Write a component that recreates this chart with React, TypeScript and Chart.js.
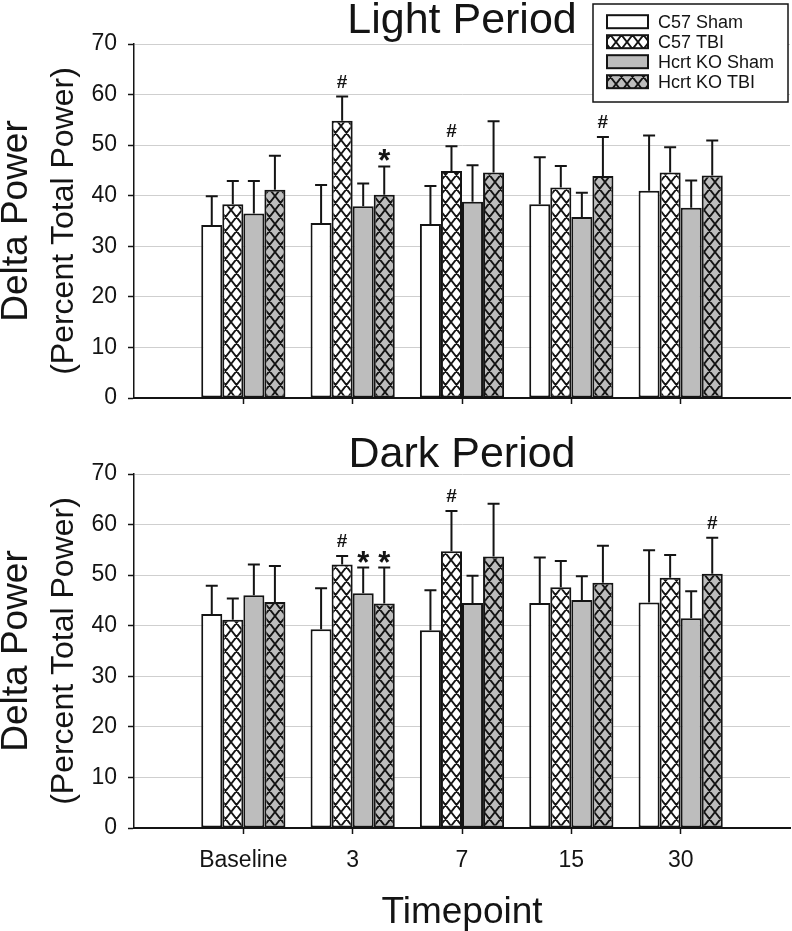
import React, { useEffect, useRef } from 'react';
import { Chart, registerables } from 'chart.js';

Chart.register(...registerables);

const FONT = "'Liberation Sans', Arial, Helvetica, sans-serif";

// Categories (empty slots at both ends leave room like in the original figure)
const timepoints = ['', 'Baseline', '3', '7', '15', '30', ''];
const seriesNames = ['C57 Sham', 'C57 TBI', 'Hcrt KO Sham', 'Hcrt KO TBI'];
const yTickValues = [0, 10, 20, 30, 40, 50, 60, 70];

// Light period: means and upward error (SEM)
const lightC57Sham = [null, 34.2, 34.6, 34.4, 38.3, 41.0, null];
const lightC57TBI = [null, 38.3, 54.8, 44.9, 41.6, 44.6, null];
const lightHcrtSham = [null, 36.5, 37.9, 38.8, 35.8, 37.6, null];
const lightHcrtTBI = [null, 41.2, 40.2, 44.6, 43.9, 44.0, null];
const lightC57ShamErr = [0, 5.7, 7.5, 7.5, 9.3, 10.9, 0];
const lightC57TBIErr = [0, 4.6, 4.8, 4.9, 4.3, 5.0, 0];
const lightHcrtShamErr = [0, 6.4, 4.5, 7.2, 4.8, 5.4, 0];
const lightHcrtTBIErr = [0, 6.7, 5.6, 10.1, 7.7, 6.9, 0];
const lightMarksC57Sham = ['', '', '', '', '', '', ''];
const lightMarksC57TBI = ['', '', '#', '#', '', '', ''];
const lightMarksHcrtSham = ['', '', '', '', '', '', ''];
const lightMarksHcrtTBI = ['', '', '*', '', '#', '', ''];

// Dark period: means and upward error (SEM)
const darkC57Sham = [null, 42.3, 39.3, 39.1, 44.5, 44.6, null];
const darkC57TBI = [null, 41.2, 52.1, 54.7, 47.6, 49.5, null];
const darkHcrtSham = [null, 46.0, 46.4, 44.5, 45.1, 41.5, null];
const darkHcrtTBI = [null, 44.7, 44.4, 53.7, 48.5, 50.3, null];
const darkC57ShamErr = [0, 5.6, 8.1, 7.9, 9.0, 10.3, 0];
const darkC57TBIErr = [0, 4.2, 1.7, 8.0, 5.2, 4.5, 0];
const darkHcrtShamErr = [0, 6.1, 5.1, 5.4, 4.7, 5.3, 0];
const darkHcrtTBIErr = [0, 7.1, 7.1, 10.4, 7.3, 7.1, 0];
const darkMarksC57Sham = ['', '', '', '', '', '', ''];
const darkMarksC57TBI = ['', '', '#', '#', '', '', ''];
const darkMarksHcrtSham = ['', '', '*', '', '', '', ''];
const darkMarksHcrtTBI = ['', '', '*', '', '', '#', ''];

const GREY = '#bdbdbd';
const INK = '#141414';

function makeHatch(bg: string): CanvasPattern | string {
  const W = 11, H = 14;
  const c = document.createElement('canvas');
  c.width = W;
  c.height = H;
  const g = c.getContext('2d');
  if (!g) return bg;
  g.fillStyle = bg;
  g.fillRect(0, 0, W, H);
  g.strokeStyle = INK;
  g.lineWidth = 1.9;
  g.beginPath();
  for (const dx of [-W, 0, W]) {
    for (const dy of [-H, 0, H]) {
      g.moveTo(dx, dy);
      g.lineTo(dx + W, dy + H);
      g.moveTo(dx + W, dy);
      g.lineTo(dx, dy + H);
    }
  }
  g.stroke();
  const p = g.createPattern(c, 'repeat');
  return p || bg;
}

type PanelProps = {
  top: number;
  height: number;
  plotTop: number;
  plotBottom: number;
  title: string;
  titleBaseline: number;
  showXLabels: boolean;
  showLegend: boolean;
  values: (number | null)[][];
  errors: number[][];
  marks: string[][];
};

function Panel(props: PanelProps) {
  const ref = useRef<HTMLCanvasElement>(null);
  useEffect(() => {
    const canvas = ref.current;
    if (!canvas) return;
    const hatchWhite = makeHatch('#ffffff');
    const hatchGrey = makeHatch(GREY);
    const fills = ['#ffffff', hatchWhite, GREY, hatchGrey];

    const overlay = {
      id: 'overlay',
      afterDatasetsDraw(chart: any) {
        const ctx = chart.ctx;
        const ys = chart.scales.y;
        chart.data.datasets.forEach((ds: any, di: number) => {
          const meta = chart.getDatasetMeta(di);
          meta.data.forEach((bar: any, i: number) => {
            const v = ds.data[i];
            if (v == null) return;
            const e = props.errors[di][i];
            const top = ys.getPixelForValue(v + e);
            ctx.save();
            ctx.strokeStyle = INK;
            ctx.lineWidth = 2;
            ctx.beginPath();
            ctx.moveTo(bar.x, bar.y);
            ctx.lineTo(bar.x, top);
            ctx.moveTo(bar.x - 6, top);
            ctx.lineTo(bar.x + 6, top);
            ctx.stroke();
            const m = props.marks[di][i];
            ctx.fillStyle = INK;
            ctx.textAlign = 'center';
            ctx.textBaseline = 'alphabetic';
            if (m === '#') {
              ctx.font = `bold 19px ${FONT}`;
              ctx.fillText('#', bar.x, top - 9);
            } else if (m === '*') {
              ctx.font = `bold 31px ${FONT}`;
              ctx.fillText('*', bar.x, top + 5);
            }
            ctx.restore();
          });
        });
      },
      afterDraw(chart: any) {
        const ctx = chart.ctx;
        const area = chart.chartArea;
        const cx = (area.left + area.right) / 2;
        const cy = (area.top + area.bottom) / 2;
        ctx.save();
        ctx.fillStyle = INK;
        // Panel title
        ctx.font = `43px ${FONT}`;
        ctx.textAlign = 'center';
        ctx.textBaseline = 'alphabetic';
        ctx.fillText(props.title, cx, props.titleBaseline);
        // Y axis title (two lines)
        ctx.save();
        ctx.translate(17, cy);
        ctx.rotate(-Math.PI / 2);
        ctx.textBaseline = 'middle';
        ctx.font = `37px ${FONT}`;
        ctx.fillText('Delta Power', 0, 0);
        ctx.restore();
        ctx.save();
        ctx.translate(64, cy);
        ctx.rotate(-Math.PI / 2);
        ctx.textBaseline = 'middle';
        ctx.font = `32px ${FONT}`;
        ctx.fillText('(Percent Total Power)', 0, 0);
        ctx.restore();
        if (props.showXLabels) {
          ctx.font = `37px ${FONT}`;
          ctx.textAlign = 'center';
          ctx.textBaseline = 'alphabetic';
          ctx.fillText('Timepoint', cx, 503);
        }
        if (props.showLegend) {
          const lx = 593, ly = 4, lw = 195, lh = 98;
          ctx.fillStyle = '#ffffff';
          ctx.fillRect(lx, ly, lw, lh);
          ctx.strokeStyle = INK;
          ctx.lineWidth = 1.5;
          ctx.strokeRect(lx, ly, lw, lh);
          seriesNames.forEach((name, k) => {
            const rowY = 21.7 + k * 20;
            ctx.fillStyle = fills[k] as any;
            ctx.fillRect(607, rowY - 6.5, 41, 13);
            ctx.strokeStyle = INK;
            ctx.lineWidth = 2;
            ctx.strokeRect(607, rowY - 6.5, 41, 13);
            ctx.fillStyle = INK;
            ctx.font = `18px ${FONT}`;
            ctx.textAlign = 'left';
            ctx.textBaseline = 'middle';
            ctx.fillText(name, 658, rowY + 1);
          });
        }
        ctx.restore();
      },
    };

    const hideEnds = (c: any) => (c.index === 0 || c.index === timepoints.length - 1 ? 'rgba(0,0,0,0)' : INK);

    const chart = new Chart(canvas, {
      type: 'bar',
      data: {
        labels: timepoints,
        datasets: props.values.map((vals, k) => ({
          label: seriesNames[k],
          data: vals,
          backgroundColor: fills[k] as any,
          borderColor: INK,
          borderWidth: 2,
          borderSkipped: false,
        })),
      },
      options: {
        responsive: false,
        animation: false,
        events: [],
        layout: { padding: { top: props.plotTop, left: 0, right: 2, bottom: 0 } },
        datasets: { bar: { categoryPercentage: 0.77, barPercentage: 1 } },
        plugins: { legend: { display: false }, tooltip: { enabled: false }, title: { display: false } },
        scales: {
          x: {
            type: 'category',
            offset: false,
            grid: {
              offset: false,
              drawOnChartArea: false,
              drawTicks: true,
              tickLength: 6,
              tickWidth: 1.5,
              tickColor: hideEnds as any,
              color: hideEnds as any,
            },
            border: { display: true, color: INK, width: 2 },
            ticks: {
              display: props.showXLabels,
              autoSkip: false,
              maxRotation: 0,
              color: INK,
              padding: 13,
              font: { family: FONT, size: 23 },
            },
            afterFit: (s: any) => {
              s.height = props.height - props.plotBottom;
              s.paddingLeft = 0;
              s.paddingRight = 0;
            },
          },
          y: {
            min: 0,
            max: 70,
            afterBuildTicks: (s: any) => {
              s.ticks = yTickValues.map((v) => ({ value: v }));
            },
            grid: {
              color: (c: any) => (c.tick && c.tick.value === 0 ? 'rgba(0,0,0,0)' : '#cfcfcf'),
              lineWidth: 1,
              tickColor: INK,
              tickLength: 6,
              tickWidth: 1.5,
            },
            border: { display: true, color: INK, width: 1.5 },
            ticks: {
              color: INK,
              padding: 11,
              font: { family: FONT, size: 23 },
            },
            afterFit: (s: any) => {
              s.width = 134;
              s.paddingTop = 0;
              s.paddingBottom = 0;
            },
          },
        },
      },
      plugins: [overlay],
    } as any);
    return () => chart.destroy();
  }, []);
  return (
    <canvas
      ref={ref}
      width={792}
      height={props.height}
      style={{ position: 'absolute', left: 0, top: props.top, width: 792, height: props.height }}
    />
  );
}

export default function App() {
  return (
    <div style={{ position: 'absolute', left: 0, top: 0, width: 792, height: 931, background: '#ffffff', overflow: 'hidden' }}>
      <Panel
        top={0}
        height={420}
        plotTop={44}
        plotBottom={398}
        title="Light Period"
        titleBaseline={33}
        showXLabels={false}
        showLegend={true}
        values={[lightC57Sham, lightC57TBI, lightHcrtSham, lightHcrtTBI]}
        errors={[lightC57ShamErr, lightC57TBIErr, lightHcrtShamErr, lightHcrtTBIErr]}
        marks={[lightMarksC57Sham, lightMarksC57TBI, lightMarksHcrtSham, lightMarksHcrtTBI]}
      />
      <Panel
        top={420}
        height={511}
        plotTop={54}
        plotBottom={408}
        title="Dark Period"
        titleBaseline={47}
        showXLabels={true}
        showLegend={false}
        values={[darkC57Sham, darkC57TBI, darkHcrtSham, darkHcrtTBI]}
        errors={[darkC57ShamErr, darkC57TBIErr, darkHcrtShamErr, darkHcrtTBIErr]}
        marks={[darkMarksC57Sham, darkMarksC57TBI, darkMarksHcrtSham, darkMarksHcrtTBI]}
      />
    </div>
  );
}
